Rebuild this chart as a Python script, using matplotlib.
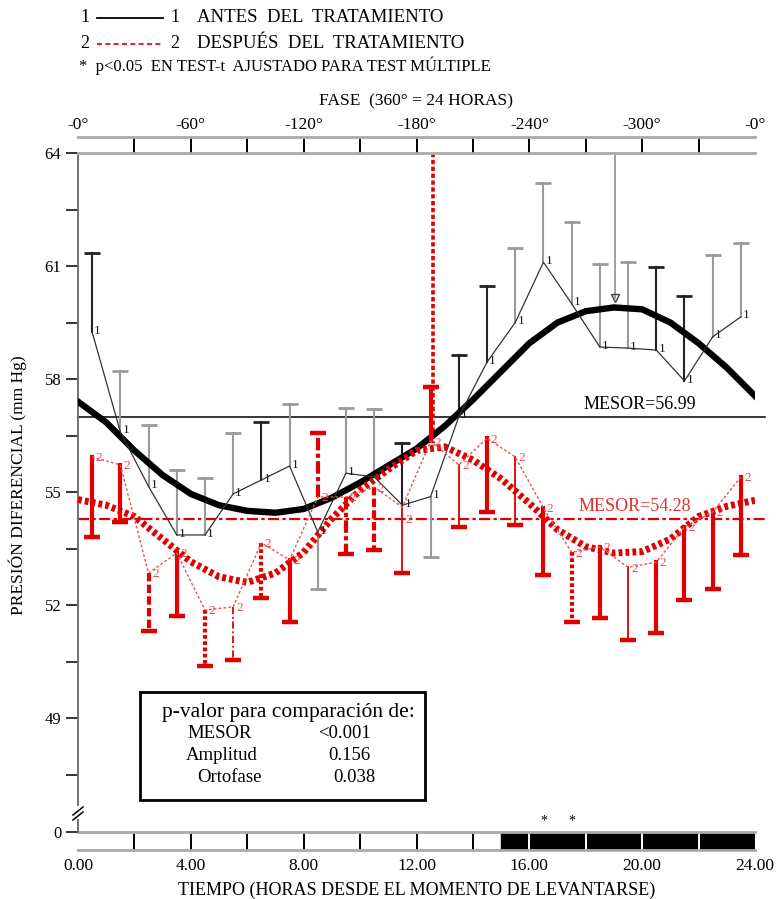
import numpy as np
import matplotlib.pyplot as plt
from matplotlib.patches import Rectangle
from matplotlib.lines import Line2D

plt.rcParams['font.family'] = ['Liberation Serif', 'DejaVu Serif']

W, H = 777, 899


def fx(x):
    return x / W


def fy(y):
    return 1 - y / H


# horas de medida (punto medio de cada hora)
horas = [0.5, 1.5, 2.5, 3.5, 4.5, 5.5, 6.5, 7.5, 8.5, 9.5, 10.5, 11.5,
         12.5, 13.5, 14.5, 15.5, 16.5, 17.5, 18.5, 19.5, 20.5, 21.5, 22.5, 23.5]

# 1: antes del tratamiento
antes_media = [59.25, 56.6, 55.15, 53.86, 53.86, 54.95, 55.32, 55.69, 53.94, 55.5, 55.4, 54.65,
               54.88, 57.0, 58.45, 59.5, 61.1, 60.0, 58.85, 58.82, 58.77, 57.95, 59.12, 59.65]
antes_barra = [61.35, 58.21, 56.78, 55.58, 55.37, 56.57, 56.86, 57.34, 52.43, 57.23, 57.2, 56.3,
               53.27, 58.64, 60.47, 61.48, 63.2, 62.17, 61.05, 61.1, 60.97, 60.2, 61.29, 61.61]

# 2: despues del tratamiento
despues_media = [55.93, 55.72, 52.85, 53.38, 51.87, 51.95, 53.65, 53.2, 54.87, 54.87, 55.13, 54.6,
                 56.35, 55.72, 56.43, 55.93, 54.58, 53.4, 53.54, 53.0, 53.14, 54.07, 54.47, 55.4]
despues_barra = [53.8, 54.2, 51.31, 51.7, 50.38, 50.54, 52.18, 51.55, 56.57, 53.35, 53.46, 52.85,
                 57.8, 54.07, 54.47, 54.12, 52.8, 51.55, 51.66, 51.07, 51.26, 52.13, 52.42, 53.33]

# curvas cosinor
curva_horas = [0, 1, 2, 3, 4, 5, 6, 7, 8, 9, 10, 11, 12, 13, 14, 15, 16, 17, 18, 19, 20, 21, 22, 23, 24]
antes_curva = [57.4, 56.85, 56.1, 55.45, 54.95, 54.65, 54.5, 54.45, 54.55, 54.85, 55.25, 55.7, 56.15,
               56.75, 57.45, 58.2, 58.95, 59.5, 59.8, 59.9, 59.85, 59.5, 58.95, 58.3, 57.55]
despues_curva = [54.8, 54.65, 54.35, 53.75, 53.15, 52.75, 52.6, 52.85, 53.4, 54.3, 55.05, 55.6, 56.1,
                 56.2, 55.85, 55.35, 54.7, 54.0, 53.55, 53.38, 53.42, 53.75, 54.35, 54.62, 54.78]

mesor_antes = 56.99
mesor_despues = 54.28
acrofase_antes = (19.05, 60.15)
acrofase_despues = (12.6, 56.3)
significativas = [16.5, 17.5]

fase_ticks = [0, 4, 8, 12, 16, 20, 24]
fase_labels = ['-0°', '-60°', '-120°', '-180°', '-240°', '-300°', '-0°']
tiempo_labels = ['0.00', '4.00', '8.00', '12.00', '16.00', '20.00', '24.00']
y_ticks = [64, 61, 58, 55, 52, 49]
y_minor = [62.5, 59.5, 56.5, 53.5, 50.5, 47.5]
pvalores = [('MESOR', '<0.001'), ('Amplitud', '0.156'), ('Ortofase', '0.038')]

# estilos de las barras
gris = '#9a9a9a'
oscuro = '#222222'
antes_col = [oscuro, gris, gris, gris, gris, gris, oscuro, gris, gris, gris, gris, oscuro,
             gris, oscuro, oscuro, gris, gris, gris, gris, gris, oscuro, oscuro, gris, gris]
rojo = '#e00000'
est = {
    'S': ('-', 3.0),
    't': ('-', 1.3),
    'P': ((0, (0.9, 0.6)), 3.0),
    'D': ((0, (2.0, 0.8)), 3.0),
    'DD': ((0, (3, 0.8, 1, 0.8)), 3.0),
    'dt': ((0, (4, 1.5, 1, 1.5)), 1.3),
}
despues_est = ['S', 'S', 'D', 'S', 'P', 'dt', 'P', 'S', 'DD', 'DD', 'D', 't',
               'S', 't', 'S', 't', 'S', 'P', 'S', 't', 'S', 'S', 'S', 'S']
# desplazamiento vertical (pt) de las etiquetas "2"
despues_dy = [-1, -1, -1, -1, -1, -1, -1, -1, -1, -1, -1, -9,
              -1, -1, -1, -1, -1, -1, -1, -1, -1, -1, -1, -1]

fig = plt.figure(figsize=(W / 100, H / 100), dpi=100)

# ---- panel principal
x0, x1 = 78, 755
ytop, ybot = 153, 805
ax = fig.add_axes([fx(x0), fy(ybot), fx(x1) - fx(x0), fy(ytop) - fy(ybot)])
ax.set_xlim(0, 24)
ax.set_ylim(64 - (ybot - ytop) / 37.67, 64)
for s in ['top', 'right', 'bottom']:
    ax.spines[s].set_visible(False)
ax.spines['left'].set_color('#666666')
ax.spines['left'].set_linewidth(1.3)
ax.set_xticks([])
ax.set_yticks(y_ticks)
ax.set_yticks(y_minor, minor=True)
ax.tick_params(axis='y', which='both', length=9, width=1.1, color='black', labelsize=12, pad=3)
ax.set_ylabel('PRESIÓN DIFERENCIAL (mm Hg)', fontsize=12.5)
ax.yaxis.set_label_coords(-0.075, 0.49)

# mesor
ax.plot([0, 24.35], [mesor_antes, mesor_antes], color='black', lw=1.1, clip_on=False)
ax.plot([0, 24.35], [mesor_despues, mesor_despues], color=rojo, lw=1.6,
        ls=(0, (5, 1.5, 1.5, 1.5)), clip_on=False)
ax.text(19.9, mesor_antes + 0.1, 'MESOR=56.99', ha='center', va='bottom', fontsize=13)
ax.text(19.75, mesor_despues + 0.1, 'MESOR=54.28', ha='center', va='bottom', fontsize=13,
        color='#e03030')

# acrofases
ax.plot([acrofase_despues[0]] * 2, [64, acrofase_despues[1]], color=rojo, lw=2.6,
        ls=(0, (1.2, 0.7)))
ax.plot([acrofase_antes[0]] * 2, [64, acrofase_antes[1]], color='#999999', lw=1.3)
ax.plot(acrofase_antes[0], acrofase_antes[1], marker='v', ms=6, mfc='none', mec='#444444', mew=1)

# curvas cosinor
ax.plot(curva_horas, antes_curva, color='black', lw=4.6, solid_joinstyle='round', zorder=4)
ax.plot(curva_horas, despues_curva, color=rojo, lw=5, ls=(0, (0.55, 0.45)), zorder=4)

# barras serie 1
for h, m, b, c in zip(horas, antes_media, antes_barra, antes_col):
    ax.plot([h, h], [m, b], color=c, lw=1.5, zorder=3)
    ax.plot(h, b, marker='_', ms=11, mew=2, color=c, zorder=3)

# barras serie 2
for h, m, b, e in zip(horas, despues_media, despues_barra, despues_est):
    ls, lw = est[e]
    ax.plot([h, h], [m, b], color=rojo, lw=lw, ls=ls, zorder=5)
    ax.plot(h, b, marker='_', ms=12, mew=3.2, color=rojo, zorder=5)

# lineas que unen medias
ax.plot(horas, antes_media, color='#333333', lw=0.9, zorder=5)
ax.plot(horas, despues_media, color='#f05050', lw=1.0, ls=(0, (2, 1.5)), zorder=5)
for h, m in zip(horas, antes_media):
    ax.annotate('1', (h, m), xytext=(1.5, 1), textcoords='offset points', ha='left',
                va='center', fontsize=9.5, color='#1a1a1a', zorder=6)
for h, m, dy in zip(horas, despues_media, despues_dy):
    ax.annotate('2', (h, m), xytext=(2.5, dy), textcoords='offset points', ha='left',
                va='center', fontsize=9.5, color='#ee4a4a', zorder=6)

# ---- barra superior de fase
axt = fig.add_axes([fx(x0), fy(ytop), fx(x1) - fx(x0), fy(137) - fy(153)])
axt.set_xlim(0, 24)
axt.set_ylim(0, 1)
axt.vlines(np.arange(2, 24, 2), 0, 1, color='black', lw=1.4)
for s in ['left', 'right']:
    axt.spines[s].set_visible(False)
for s in ['top', 'bottom']:
    axt.spines[s].set_color('#aaaaaa')
    axt.spines[s].set_linewidth(2)
axt.set_yticks([])
axt.xaxis.tick_top()
axt.set_xticks(fase_ticks)
axt.set_xticklabels(fase_labels)
axt.tick_params(axis='x', length=0, pad=3, labelsize=12.5)
fig.text(fx(416), fy(101), 'FASE  (360° = 24 HORAS)', ha='center', va='center', fontsize=12.5)

# ---- barra inferior (luz / oscuridad)
axb = fig.add_axes([fx(x0), fy(850), fx(x1) - fx(x0), fy(832) - fy(850)])
axb.set_xlim(0, 24)
axb.set_ylim(-1, 0)
axb.add_patch(Rectangle((15, -1), 9, 1, color='black'))
axb.vlines(np.arange(2, 15, 2), -1, 0, color='black', lw=1.4)
axb.vlines(np.arange(16, 24, 2), -1, 0, color='white', lw=1.4)
for s in ['left', 'right']:
    axb.spines[s].set_visible(False)
for s in ['top', 'bottom']:
    axb.spines[s].set_color('#aaaaaa')
    axb.spines[s].set_linewidth(2)
axb.set_yticks([0])
axb.set_yticklabels(['0'])
axb.tick_params(axis='y', length=9, width=1.1, labelsize=12, pad=3)
axb.set_xticks(fase_ticks)
axb.set_xticklabels(tiempo_labels)
axb.tick_params(axis='x', length=0, pad=6, labelsize=12.5)
axb.set_xlabel('TIEMPO (HORAS DESDE EL MOMENTO DE LEVANTARSE)', fontsize=13, labelpad=5)
for h in significativas:
    axb.annotate('*', (h, 0), xytext=(0, 3), textcoords='offset points', ha='center',
                 va='bottom', fontsize=10)

# corte del eje
fig.add_artist(Line2D([fx(78), fx(78)], [fy(820), fy(832)], color='#666666', lw=1.3))
for yb in (811, 816):
    fig.add_artist(Line2D([fx(73), fx(83)], [fy(yb + 4), fy(yb - 4)], color='black', lw=1.1))

# ---- leyenda superior
fig.text(fx(85), fy(18), '1', ha='center', va='center', fontsize=13)
fig.add_artist(Line2D([fx(97), fx(163)], [fy(18), fy(18)], color='black', lw=1.3))
fig.text(fx(175), fy(18), '1', ha='center', va='center', fontsize=13)
fig.text(fx(197), fy(18), 'ANTES  DEL  TRATAMIENTO', ha='left', va='center', fontsize=13.5)
fig.text(fx(85), fy(44), '2', ha='center', va='center', fontsize=13)
fig.add_artist(Line2D([fx(97), fx(163)], [fy(44), fy(44)], color=rojo, lw=1.2,
                      ls=(0, (3, 2))))
fig.text(fx(175), fy(44), '2', ha='center', va='center', fontsize=13)
fig.text(fx(197), fy(44), 'DESPUÉS  DEL  TRATAMIENTO', ha='left', va='center', fontsize=13.5)
fig.text(fx(79), fy(66), '*  p<0.05  EN TEST-t  AJUSTADO PARA TEST MÚLTIPLE', ha='left',
         va='center', fontsize=12)

# ---- recuadro de p-valores
fig.add_artist(Rectangle((fx(140), fy(800)), fx(425) - fx(140), fy(692) - fy(800),
                         fill=False, lw=2, edgecolor='black'))
fig.text(fx(288), fy(713), 'p-valor para comparación de:', ha='center', va='center', fontsize=15.5)
for (nom, val), yy, xn, xv in zip(pvalores, [733, 755, 778], [187, 186, 197], [318, 328, 333]):
    fig.text(fx(xn), fy(yy), nom, ha='left', va='center', fontsize=13.5)
    fig.text(fx(xv), fy(yy), val, ha='left', va='center', fontsize=13.5)

fig.savefig('out.png', dpi=100)
